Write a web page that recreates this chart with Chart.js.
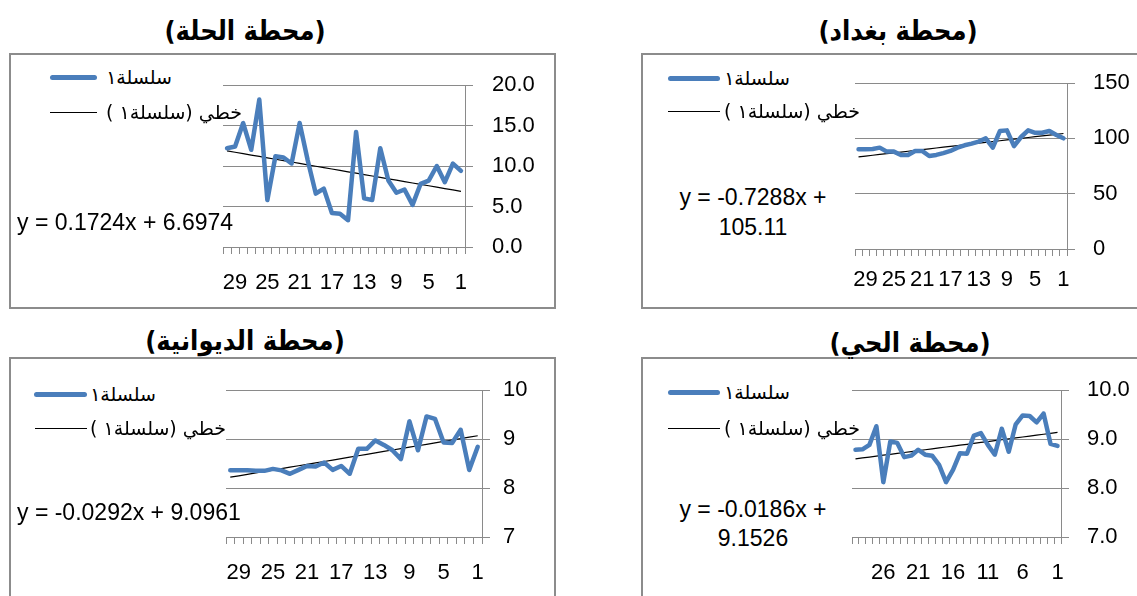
<!DOCTYPE html>
<html>
<head>
<meta charset="utf-8">
<script src="https://cdn.jsdelivr.net/npm/chart.js@4.4.1/dist/chart.umd.min.js"></script>
<style>
  body { margin: 0; width: 1137px; height: 596px; overflow: hidden; position: relative; background: #fff;
         font-family: "Liberation Sans", Arial, sans-serif; color: #000; }
  .box { position: absolute; border: 2px solid #8c8c8c; box-sizing: border-box; }
  .title { position: absolute; transform: translate(-50%, -50%); white-space: nowrap; direction: rtl;
           font-family: "DejaVu Sans Condensed", "DejaVu Sans", sans-serif; font-weight: bold; font-size: 27px; }
  canvas { position: absolute; }
  .lgline { position: absolute; height: 5px; margin-top: -2.5px; background: #4a7ebb; border-radius: 3px; }
  .lgtrend { position: absolute; height: 1px; background: #000; }
  .lgtext { position: absolute; transform: translate(-100%, -50%); white-space: nowrap; direction: rtl;
            font-family: "DejaVu Sans", sans-serif; font-size: 19px; }
  .eq { position: absolute; white-space: nowrap; font-size: 23px; transform: translateY(-50%); }
  .eqc { position: absolute; white-space: nowrap; font-size: 23px; transform: translate(-50%, -50%); }
</style>
</head>
<body>

<div class="box" style="left:9px;top:53px;width:547px;height:256px"></div>
<div class="box" style="left:641px;top:53px;width:510px;height:256px"></div>
<div class="box" style="left:9px;top:357px;width:547px;height:260px"></div>
<div class="box" style="left:641px;top:357px;width:510px;height:260px"></div>

<div class="title" style="left:245px;top:30px">(محطة الحلة)</div>
<div class="title" style="left:898px;top:30px">(محطة بغداد)</div>
<div class="title" style="left:245px;top:340px">(محطة الديوانية)</div>
<div class="title" style="left:910px;top:342px">(محطة الحي)</div>

<canvas id="hilla" width="360" height="235" style="left:200px;top:70px"></canvas>
<canvas id="baghdad" width="307" height="237" style="left:830px;top:68px"></canvas>
<canvas id="diwaniya" width="360" height="221" style="left:200px;top:375px"></canvas>
<canvas id="hayy" width="307" height="221" style="left:830px;top:375px"></canvas>

<!-- legends -->
<div class="lgline" style="left:50px;top:77px;width:47px"></div>
<div class="lgtext" style="left:172px;top:77px">سلسلة١</div>
<div class="lgtrend" style="left:50px;top:112px;width:47px"></div>
<div class="lgtext" style="left:242px;top:112px">خطي (سلسلة١ )</div>

<div class="lgline" style="left:668px;top:78px;width:52px"></div>
<div class="lgtext" style="left:790px;top:78px">سلسلة١</div>
<div class="lgtrend" style="left:668px;top:111px;width:52px"></div>
<div class="lgtext" style="left:860px;top:111px">خطي (سلسلة١ )</div>

<div class="lgline" style="left:34px;top:394px;width:53px"></div>
<div class="lgtext" style="left:156px;top:394px">سلسلة١</div>
<div class="lgtrend" style="left:35px;top:428px;width:52px"></div>
<div class="lgtext" style="left:226px;top:428px">خطي (سلسلة١ )</div>

<div class="lgline" style="left:668px;top:392px;width:52px"></div>
<div class="lgtext" style="left:790px;top:392px">سلسلة١</div>
<div class="lgtrend" style="left:668px;top:428px;width:52px"></div>
<div class="lgtext" style="left:860px;top:428px">خطي (سلسلة١ )</div>

<!-- trendline equations -->
<div class="eq" style="left:17px;top:222px">y = 0.1724x + 6.6974</div>
<div class="eqc" style="left:753px;top:197px">y = -0.7288x +</div>
<div class="eqc" style="left:753px;top:227px">105.11</div>
<div class="eq" style="left:17px;top:512px">y = -0.0292x + 9.0961</div>
<div class="eqc" style="left:753px;top:509px">y = -0.0186x +</div>
<div class="eqc" style="left:753px;top:538px">9.1526</div>

<script>
// categories 1..30, drawn right-to-left (reversed axis)
const categories = [1, 2, 3, 4, 5, 6, 7, 8, 9, 10, 11, 12, 13, 14, 15, 16, 17, 18, 19, 20,
                    21, 22, 23, 24, 25, 26, 27, 28, 29, 30];

// series values, in category order 1..30
const hillaValues = [9.4, 10.3, 8.0, 10.0, 8.2, 7.8, 5.2, 7.1, 6.7, 8.2, 12.2, 5.8, 6.0, 14.2, 3.3,
                     4.1, 4.2, 7.2, 6.6, 10.7, 15.3, 10.3, 11.05, 11.2, 5.8, 18.2, 12.0, 15.3, 12.4, 12.2];
const baghdadValues = [100, 103, 106.6, 105, 105, 107.2, 101.2, 93, 107.2, 106.6, 91.6, 100, 97, 95.2, 93.7,
                       91.6, 88.6, 86.7, 85, 84, 88.6, 88.6, 85, 85, 88, 88, 91.6, 90.4, 90.1, 90.1];
const diwaniyaValues = [8.84, 8.37, 9.19, 8.92, 8.93, 9.41, 9.46, 8.77, 9.36, 8.59, 8.77, 8.88, 8.97, 8.80, 8.80,
                        8.29, 8.45, 8.37, 8.52, 8.44, 8.45, 8.37, 8.29, 8.36, 8.39, 8.35, 8.35, 8.36, 8.36, 8.36];
const hayyValues = [8.86, 8.90, 9.52, 9.34, 9.47, 9.48, 9.30, 8.74, 9.21, 8.68, 8.88, 9.12, 9.07, 8.70, 8.71,
                    8.37, 8.12, 8.47, 8.66, 8.68, 8.78, 8.66, 8.63, 8.92, 8.95, 8.12, 9.26, 8.88, 8.79, 8.78];

// linear trendline [slope, intercept] as printed on each chart
const hillaFit = [0.1724, 6.6974];
const baghdadFit = [-0.7288, 105.11];
const diwaniyaFit = [-0.0292, 9.0961];
const hayyFit = [-0.0186, 9.1526];

// axis tick labels
const hillaYTicks = [0, 5, 10, 15, 20];
const baghdadYTicks = [0, 50, 100, 150];
const diwaniyaYTicks = [7, 8, 9, 10];
const hayyYTicks = [7, 8, 9, 10];
const stepFourLabels = [1, 5, 9, 13, 17, 21, 25, 29];
const hayyXLabels = [1, 6, 11, 16, 21, 26];

const axisGray = '#8a8a8a';
const numFont = { family: '"Liberation Sans", Arial, sans-serif', size: 22 };

function buildChart(id, values, fit, yTicks, xLabels, decimals, geo) {
    const trend = categories.map(c => fit[0] * c + fit[1]);
    new Chart(document.getElementById(id), {
        type: 'line',
        data: {
            labels: categories,
            datasets: [{
                data: values,
                borderColor: '#4a7ebb',
                borderWidth: 4.5,
                borderJoinStyle: 'round',
                borderCapStyle: 'round',
                pointRadius: 0,
                tension: 0
            }, {
                data: trend,
                borderColor: '#000',
                borderWidth: 1.2,
                pointRadius: 0,
                tension: 0
            }]
        },
        options: {
            responsive: false,
            animation: false,
            events: [],
            layout: { padding: { left: geo.padL, top: geo.padT, right: 0, bottom: 0 } },
            plugins: { legend: { display: false }, tooltip: { enabled: false } },
            scales: {
                x: {
                    reverse: true,
                    offset: true,
                    grid: { offset: true, drawOnChartArea: false, tickLength: 7, color: axisGray },
                    border: { color: axisGray },
                    ticks: {
                        autoSkip: false, maxRotation: 0, minRotation: 0,
                        padding: geo.xPad, color: '#000', font: numFont,
                        callback: (v, i) => xLabels.includes(categories[i]) ? String(categories[i]) : ''
                    },
                    afterFit: s => {
                        s.height = geo.xH;
                        s.paddingLeft = 0;
                        s.paddingRight = 0;
                    }
                },
                y: {
                    position: 'right',
                    min: yTicks[0],
                    max: yTicks[yTicks.length - 1],
                    afterBuildTicks: s => { s.ticks = yTicks.map(v => ({ value: v })); },
                    grid: { color: axisGray, tickLength: 8 },
                    border: { color: axisGray },
                    ticks: {
                        padding: geo.yPad, color: '#000', font: numFont,
                        callback: v => Number(v).toFixed(decimals)
                    },
                    afterFit: s => {
                        s.width = geo.yW;
                        s.paddingTop = 0;
                        s.paddingBottom = 0;
                    }
                }
            }
        }
    });
}

buildChart('hilla', hillaValues, hillaFit, hillaYTicks, stepFourLabels, 1,
    { padL: 23, padT: 15, yW: 95, xH: 58, xPad: 16, yPad: 19 });
buildChart('baghdad', baghdadValues, baghdadFit, baghdadYTicks, stepFourLabels, 0,
    { padL: 25, padT: 15, yW: 70, xH: 56, xPad: 11, yPad: 18 });
buildChart('diwaniya', diwaniyaValues, diwaniyaFit, diwaniyaYTicks, stepFourLabels, 0,
    { padL: 26, padT: 15, yW: 78, xH: 59, xPad: 16, yPad: 13 });
buildChart('hayy', hayyValues, hayyFit, hayyYTicks, hayyXLabels, 1,
    { padL: 22, padT: 15, yW: 76, xH: 59, xPad: 16, yPad: 18 });
</script>
</body>
</html>
